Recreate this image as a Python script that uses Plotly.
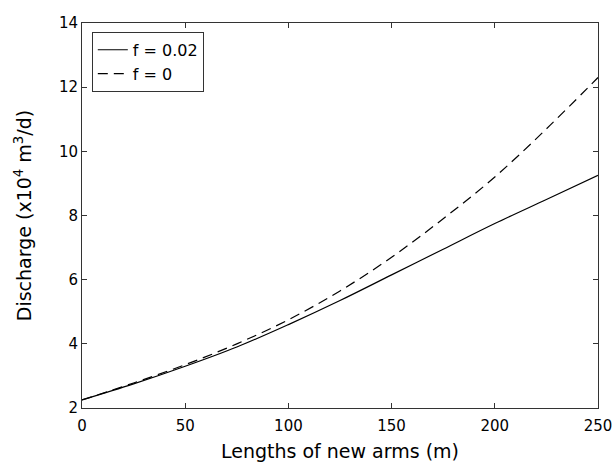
import plotly.graph_objects as go

lengths = [0, 25, 50, 75, 100, 125, 150, 175, 200, 225, 250]
discharge_f002 = [2.25, 2.75, 3.3, 3.9, 4.6, 5.35, 6.15, 6.95, 7.75, 8.5, 9.25]
discharge_f0 = [2.25, 2.78, 3.35, 4.0, 4.75, 5.65, 6.7, 7.9, 9.2, 10.7, 12.3]

x_ticks = [0, 50, 100, 150, 200, 250]
y_ticks = [2, 4, 6, 8, 10, 12, 14]

FONT = "DejaVu Sans"
AX = "#333333"

fig = go.Figure()
fig.add_trace(go.Scatter(x=lengths, y=discharge_f002, mode="lines", name="f = 0.02",
                         line=dict(color="black", width=1.2, shape="spline")))
fig.add_trace(go.Scatter(x=lengths, y=discharge_f0, mode="lines", name="f = 0",
                         line=dict(color="black", width=1.2, dash="10px,6px", shape="spline")))

axis_common = dict(showgrid=False, zeroline=False, showline=True, linecolor=AX, linewidth=1,
                   mirror="ticks", ticks="inside", ticklen=5, tickcolor=AX, automargin=False,
                   tickfont=dict(family=FONT, size=15, color="black"))

fig.update_layout(
    width=614, height=462,
    margin=dict(l=82, r=16, t=23, b=54),
    paper_bgcolor="white", plot_bgcolor="white",
    font=dict(family=FONT, color="black"),
    showlegend=True,
    legend=dict(x=0.019, y=0.977, xanchor="left", yanchor="top",
                bgcolor="white", bordercolor=AX, borderwidth=1,
                font=dict(family=FONT, size=16, color="black"),
                tracegroupgap=0, itemwidth=30),
    xaxis=dict(range=[0, 250], tickvals=x_ticks, ticklabelstandoff=4,
               title=dict(text="Lengths of new arms (m)", font=dict(family=FONT, size=19), standoff=12),
               **axis_common),
    yaxis=dict(range=[2, 14], tickvals=y_ticks,
               title=dict(text="Discharge (x10<sup>4</sup> m<sup>3</sup>/d)", font=dict(family=FONT, size=19), standoff=22),
               **axis_common),
)

fig.write_html("out.html", config={"displayModeBar": False},
               post_script="document.body.style.margin='0';document.body.style.overflow='hidden';")
